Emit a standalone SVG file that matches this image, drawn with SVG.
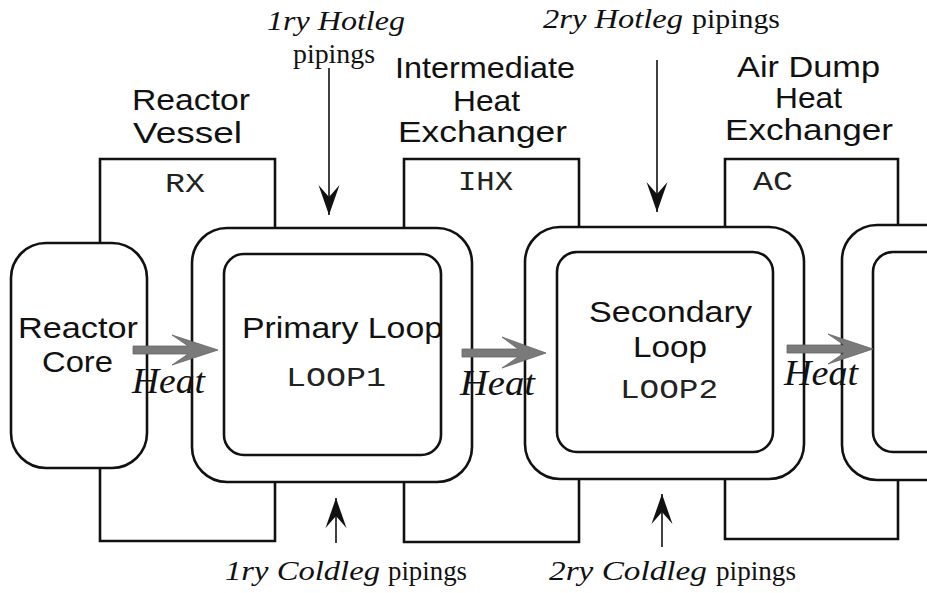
<svg xmlns="http://www.w3.org/2000/svg" width="927" height="593" viewBox="0 0 927 593">
<style>
.box{fill:none;stroke:#111;stroke-width:2.6;stroke-linejoin:miter}
.loop{fill:none;stroke:#111;stroke-width:2.6}
.sans{font-family:"Liberation Sans",Arial,sans-serif;font-size:29px;fill:#111}
.mono{font-family:"Liberation Mono","Courier New",monospace;font-size:28px;fill:#222}
.ital{font-family:"Liberation Serif","Times New Roman",serif;font-style:italic;fill:#111}
.rom{font-family:"Liberation Serif","Times New Roman",serif;fill:#111}
.heat{font-family:"Liberation Serif","Times New Roman",serif;font-style:italic;font-size:36px;fill:#111}
.pipe{stroke:#111;stroke-width:1.6;fill:none}
.harrow{fill:#7a7a7a;stroke:#666;stroke-width:0.8}
</style>
<defs>
<marker id="head" markerUnits="userSpaceOnUse" markerWidth="32" markerHeight="24" viewBox="0 -12 32 24" refX="30" refY="0" orient="auto">
<path d="M30,0 L0,-10.5 L12,0 L0,10.5 Z" fill="#111"/>
</marker>
</defs>

<g id="rx">
<path class="box" d="M100,243 V159 H275 V228"/>
<path class="box" d="M100,468 V541 H275 V482"/>
<text class="sans" x="132" y="110" textLength="118" lengthAdjust="spacingAndGlyphs">Reactor</text>
<text class="sans" x="133" y="143" textLength="109" lengthAdjust="spacingAndGlyphs">Vessel</text>
<text class="mono" x="165" y="192" textLength="40" lengthAdjust="spacingAndGlyphs">RX</text>
</g>

<g id="ihx">
<path class="box" d="M404,228 V159 H579 V227"/>
<path class="box" d="M404,482 V542 H579 V479"/>
<text class="sans" x="395" y="78" textLength="180" lengthAdjust="spacingAndGlyphs">Intermediate</text>
<text class="sans" x="453" y="111" textLength="67" lengthAdjust="spacingAndGlyphs">Heat</text>
<text class="sans" x="398" y="142" textLength="169" lengthAdjust="spacingAndGlyphs">Exchanger</text>
<text class="mono" x="458" y="190" textLength="55" lengthAdjust="spacingAndGlyphs">IHX</text>
</g>

<g id="ac">
<path class="box" d="M725,227 V159 H898 V225"/>
<path class="box" d="M725,479 V539 H898 V480"/>
<text class="sans" x="737" y="77" textLength="143" lengthAdjust="spacingAndGlyphs">Air Dump</text>
<text class="sans" x="775" y="108" textLength="67" lengthAdjust="spacingAndGlyphs">Heat</text>
<text class="sans" x="725" y="140" textLength="168" lengthAdjust="spacingAndGlyphs">Exchanger</text>
<text class="mono" x="753" y="190" textLength="40" lengthAdjust="spacingAndGlyphs">AC</text>
</g>

<g id="core">
<rect class="loop" x="11" y="243" width="136" height="225" rx="35" ry="35"/>
<text class="sans" x="18" y="338" textLength="120" lengthAdjust="spacingAndGlyphs">Reactor</text>
<text class="sans" x="42" y="372" textLength="71" lengthAdjust="spacingAndGlyphs">Core</text>
</g>

<g id="loop1">
<rect class="loop" x="192" y="228" width="280" height="254" rx="35" ry="35"/>
<rect class="loop" x="224" y="254" width="217" height="201" rx="20" ry="20"/>
<text class="sans" x="242" y="338" textLength="201" lengthAdjust="spacingAndGlyphs">Primary Loop</text>
<text class="mono" x="286" y="386" textLength="100" lengthAdjust="spacingAndGlyphs">LOOP1</text>
</g>

<g id="loop2">
<rect class="loop" x="525" y="227" width="279" height="252" rx="35" ry="35"/>
<rect class="loop" x="557" y="252" width="216" height="200" rx="20" ry="20"/>
<text class="sans" x="589" y="322" textLength="163" lengthAdjust="spacingAndGlyphs">Secondary</text>
<text class="sans" x="633" y="357" textLength="74" lengthAdjust="spacingAndGlyphs">Loop</text>
<text class="mono" x="620" y="398" textLength="98" lengthAdjust="spacingAndGlyphs">LOOP2</text>
</g>

<g id="loop3">
<rect class="loop" x="842" y="225" width="280" height="255" rx="35" ry="35"/>
<rect class="loop" x="873" y="252" width="216" height="200" rx="20" ry="20"/>
</g>

<g id="connectors">
<path class="harrow" d="M133,346 H188 L172,335 L218,350 L172,365 L188,354 H133 Z"/>
<path class="harrow" d="M462,349 H518 L502,337 L546,353 L502,368 L518,357 H462 Z"/>
<path class="harrow" d="M787,345 H844 L828,334 L873,349 L828,364 L844,353 H787 Z"/>
<text class="heat" x="132" y="393" textLength="73" lengthAdjust="spacingAndGlyphs">Heat</text>
<text class="heat" x="460" y="395" textLength="75" lengthAdjust="spacingAndGlyphs">Heat</text>
<text class="heat" x="784" y="385" textLength="74" lengthAdjust="spacingAndGlyphs">Heat</text>

<line class="pipe" x1="329" y1="68" x2="329" y2="215" marker-end="url(#head)"/>
<line class="pipe" x1="657" y1="60" x2="657" y2="212" marker-end="url(#head)"/>
<line class="pipe" x1="336" y1="543" x2="336" y2="498" marker-end="url(#head)"/>
<line class="pipe" x1="662" y1="547" x2="662" y2="494" marker-end="url(#head)"/>

<text class="ital" font-size="27" x="267" y="30" textLength="138" lengthAdjust="spacingAndGlyphs">1ry Hotleg</text>
<text class="rom" font-size="27" x="293" y="63" textLength="82" lengthAdjust="spacingAndGlyphs">pipings</text>
<text class="ital" font-size="27" x="543" y="28" textLength="140" lengthAdjust="spacingAndGlyphs">2ry Hotleg</text>
<text class="rom" font-size="27" x="692" y="28" textLength="88" lengthAdjust="spacingAndGlyphs">pipings</text>
<text class="ital" font-size="28" x="225" y="580" textLength="155" lengthAdjust="spacingAndGlyphs">1ry Coldleg</text>
<text class="rom" font-size="28" x="388" y="580" textLength="79" lengthAdjust="spacingAndGlyphs">pipings</text>
<text class="ital" font-size="28" x="549" y="580" textLength="158" lengthAdjust="spacingAndGlyphs">2ry Coldleg</text>
<text class="rom" font-size="28" x="716" y="580" textLength="80" lengthAdjust="spacingAndGlyphs">pipings</text>
</g>
</svg>
